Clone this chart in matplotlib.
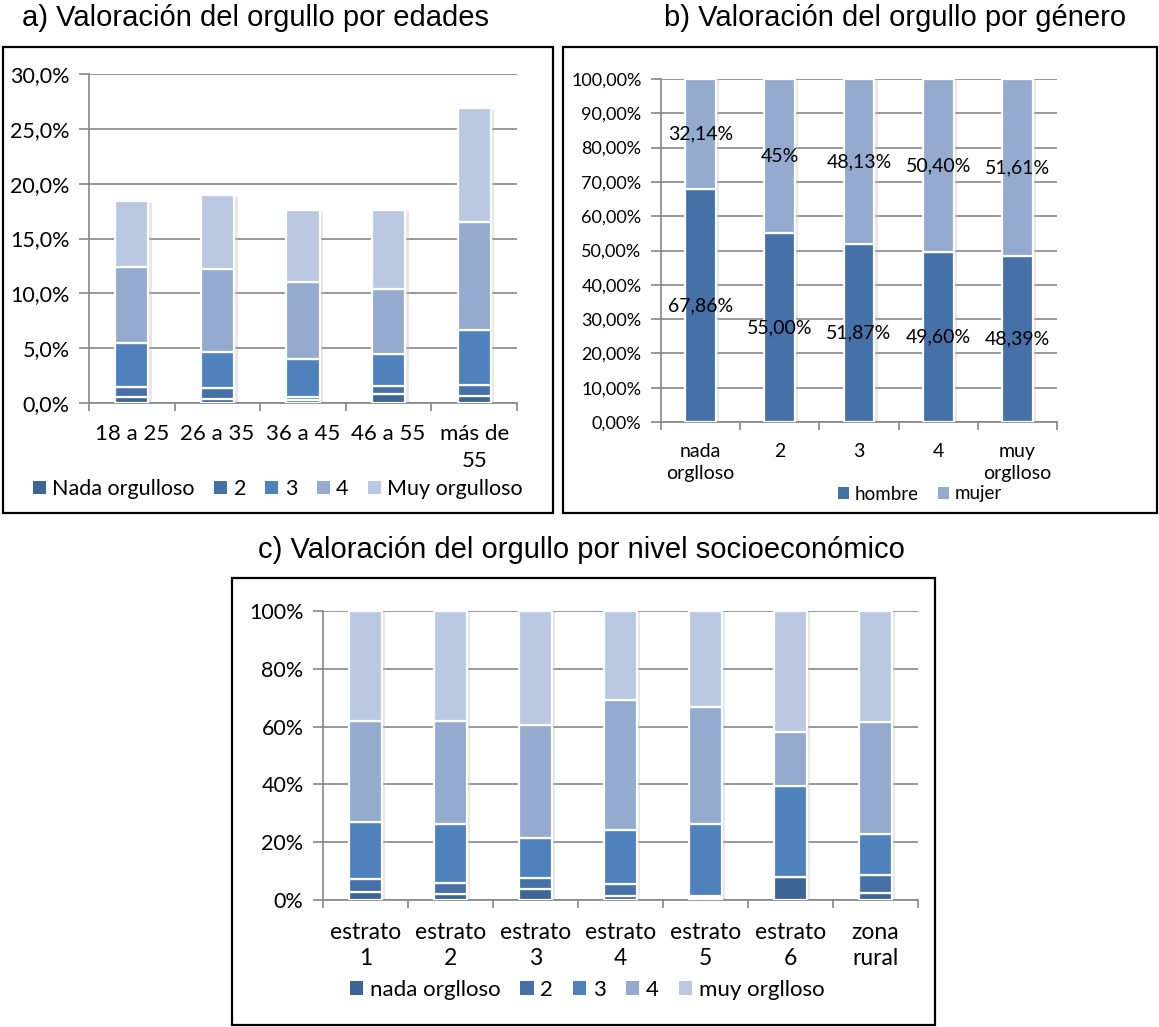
import matplotlib
matplotlib.use("Agg")
import matplotlib.pyplot as plt
import numpy as np
from matplotlib.patches import Rectangle
from matplotlib.ticker import FixedLocator

# ---------------- data ----------------
edad_cats = ["18 a 25", "26 a 35", "36 a 45", "46 a 55", "más de\n55"]
edad_series = ["Nada orgulloso", "2", "3", "4", "Muy orgulloso"]
edad_nada = [0.55, 0.33, 0.24, 0.80, 0.64]
edad_2 = [0.90, 1.04, 0.31, 0.75, 0.97]
edad_3 = [4.05, 3.28, 3.50, 2.95, 5.03]
edad_4 = [6.90, 7.60, 7.00, 5.85, 9.83]
edad_muy = [6.00, 6.74, 6.55, 7.25, 10.40]
edad_yticks = [0, 5, 10, 15, 20, 25, 30]

gen_cats = ["nada\norglloso", "2", "3", "4", "muy\norglloso"]
gen_series = ["hombre", "mujer"]
gen_hombre = [67.86, 55.00, 51.87, 49.60, 48.39]
gen_mujer = [32.14, 45.00, 48.13, 50.40, 51.61]
gen_hombre_lbl = ["67,86%", "55,00%", "51,87%", "49,60%", "48,39%"]
gen_mujer_lbl = ["32,14%", "45%", "48,13%", "50,40%", "51,61%"]
gen_yticks = [0, 10, 20, 30, 40, 50, 60, 70, 80, 90, 100]

nse_cats = ["estrato\n1", "estrato\n2", "estrato\n3", "estrato\n4",
            "estrato\n5", "estrato\n6", "zona\nrural"]
nse_series = ["nada orglloso", "2", "3", "4", "muy orglloso"]
nse_nada = [2.7, 2.1, 3.7, 1.4, 0.6, 7.9, 2.4]
nse_2 = [4.7, 3.9, 3.9, 4.2, 0.9, 0.0, 6.2]
nse_3 = [19.6, 20.3, 14.0, 18.6, 24.8, 31.6, 14.4]
nse_4 = [34.9, 35.8, 39.1, 45.1, 40.4, 18.5, 38.6]
nse_muy = [38.1, 37.9, 39.3, 30.7, 33.3, 42.0, 38.4]
nse_yticks = [0, 20, 40, 60, 80, 100]

# ---------------- style ----------------
C5 = ["#3D6596", "#4571A8", "#4F81BD", "#95AACF", "#BAC8E1"]
C2 = ["#4571A8", "#95AACF"]
GRID = "#868686"
LBL_FONT = ["Lato", "DejaVu Sans"]
TITLE_FONT = ["Liberation Sans", "DejaVu Sans"]

W, H = 1159, 1027
fig = plt.figure(figsize=(W / 100, H / 100), dpi=100)


def ax_at(l, t, r, b):
    return fig.add_axes([l / W, 1 - b / H, (r - l) / W, (b - t) / H])


def frame(l, t, r, b):
    fig.add_artist(Rectangle((l / W, 1 - b / H), (r - l) / W, (b - t) / H,
                             transform=fig.transFigure, fill=False,
                             edgecolor="black", linewidth=1.6))


def style_axes(ax, n, ymax, yticks, fmt, ysize, xpad, ypad):
    ax.set_xlim(-0.5, n - 0.5)
    ax.set_ylim(0, ymax)
    ax.set_axisbelow(True)
    ax.yaxis.grid(True, color=GRID, linewidth=1.2)
    for s in ("top", "right"):
        ax.spines[s].set_visible(False)
    for s in ("left", "bottom"):
        ax.spines[s].set_color(GRID)
        ax.spines[s].set_linewidth(1.2)
    ax.set_yticks(yticks)
    ax.set_yticklabels([fmt(v) for v in yticks], fontsize=ysize, family=LBL_FONT)
    ax.tick_params(axis="y", length=7, color=GRID, width=1.2, pad=ypad)
    ax.xaxis.set_minor_locator(FixedLocator(np.arange(-0.5, n, 1.0)))
    ax.tick_params(axis="x", which="minor", length=6, color=GRID, width=1.2)
    ax.tick_params(axis="x", which="major", length=0, pad=xpad)
    ax.set_facecolor("none")


def stacked(ax, series_vals, colors, width):
    x = np.arange(len(series_vals[0]))
    totals = np.sum(np.array(series_vals), axis=0)
    # soft shadow behind each stack
    ax.bar(x + 0.025, totals, width=width + 0.03, bottom=-0.004 * ax.get_ylim()[1],
           color="#bdbdbd", alpha=0.35, linewidth=0, zorder=2)
    bottom = np.zeros(len(x))
    conts = []
    for vals, c in zip(series_vals, colors):
        bc = ax.bar(x, vals, width=width, bottom=bottom, color=c,
                    edgecolor="white", linewidth=1.6, zorder=3)
        conts.append(bc)
        bottom = bottom + np.array(vals)
    return conts


def legend(ax, handles, labels, x, y, size, colspace):
    leg = fig.legend(handles, labels, loc="center", bbox_to_anchor=(x / W, 1 - y / H),
                     ncol=len(labels), frameon=False, handlelength=0.6, handleheight=0.6,
                     handletextpad=0.3, columnspacing=colspace, borderpad=0.1,
                     prop={"family": LBL_FONT, "size": size})
    for h in leg.legend_handles:
        h.set_edgecolor("none")
    return leg


# ---------------- panel a ----------------
frame(3, 47, 553, 513)
fig.text(255 / W, 1 - 18 / H, "a) Valoración del orgullo por edades", ha="center",
         va="center", fontsize=21, family=TITLE_FONT)
axa = ax_at(89, 74, 517, 403)
style_axes(axa, 5, 30, edad_yticks, lambda v: f"{v:.1f}%".replace(".", ","),
           15.5, 15, 7)
conts = stacked(axa, [edad_nada, edad_2, edad_3, edad_4, edad_muy], C5, 0.39)
axa.set_xticks(range(5))
axa.set_xticklabels(edad_cats, fontsize=16, family=LBL_FONT, linespacing=1.45)
legend(axa, conts, edad_series, 278, 489, 15.5, 0.9)

# ---------------- panel b ----------------
frame(563, 47, 1157, 513)
fig.text(895 / W, 1 - 18 / H, "b) Valoración del orgullo por género", ha="center",
         va="center", fontsize=21, family=TITLE_FONT)
axb = ax_at(661, 79, 1057, 422)
style_axes(axb, 5, 100, gen_yticks, lambda v: f"{v:.2f}%".replace(".", ","),
           13, 15, 7)
conts = stacked(axb, [gen_hombre, gen_mujer], C2, 0.39)
axb.set_xticks(range(5))
axb.set_xticklabels(gen_cats, fontsize=14, family=LBL_FONT, linespacing=1.35)
axb.bar_label(conts[0], labels=gen_hombre_lbl, label_type="center", fontsize=14,
              family=LBL_FONT, color="black", zorder=5)
axb.bar_label(conts[1], labels=gen_mujer_lbl, label_type="center", fontsize=14,
              family=LBL_FONT, color="black", zorder=5)
legend(axb, conts, gen_series, 920, 494, 13.5, 1.0)

# ---------------- panel c ----------------
frame(232, 578, 935, 1025)
fig.text(581 / W, 1 - 550 / H, "c) Valoración del orgullo por nivel socioeconómico",
         ha="center", va="center", fontsize=21, family=TITLE_FONT)
axc = ax_at(323, 611, 918, 900)
style_axes(axc, 7, 100, nse_yticks, lambda v: f"{v:d}%", 15.5, 16, 7)
conts = stacked(axc, [nse_nada, nse_2, nse_3, nse_4, nse_muy], C5, 0.385)
axc.set_xticks(range(7))
axc.set_xticklabels(nse_cats, fontsize=16.5, family=LBL_FONT, linespacing=1.3)
legend(axc, conts, nse_series, 587, 990, 16, 0.9)

fig.savefig("out.png", dpi=100)
